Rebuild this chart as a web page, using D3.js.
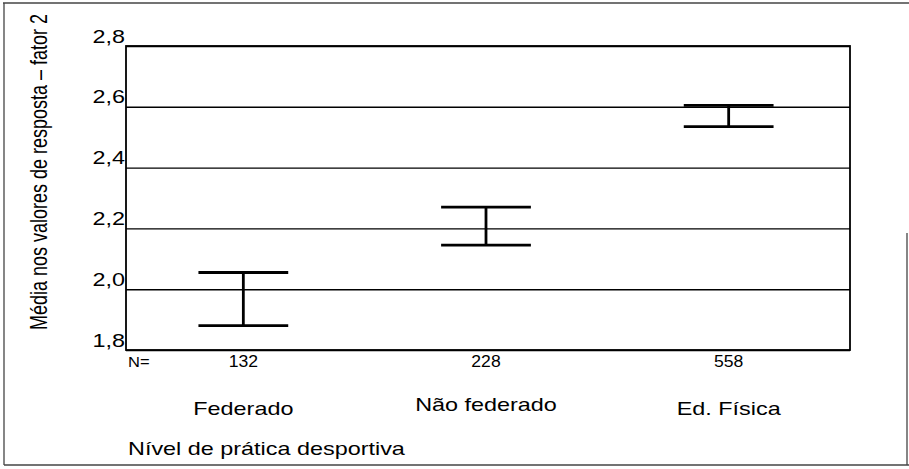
<!DOCTYPE html>
<html>
<head>
<meta charset="utf-8">
<script src="https://cdn.jsdelivr.net/npm/d3@7"></script>
<style>
  html, body { margin: 0; padding: 0; background: #fff; }
  svg { display: block; font-family: "Liberation Sans", Arial, Helvetica, sans-serif; }
</style>
</head>
<body>
<svg width="909" height="469"></svg>
<script>
// chart data
const categories = ["Federado", "Não federado", "Ed. Física"];
const nValues = [132, 228, 558];
const lowerValues = [1.88, 2.145, 2.535];
const upperValues = [2.055, 2.27, 2.605];
const yTicks = [1.8, 2.0, 2.2, 2.4, 2.6, 2.8];
const yTitle = "Média nos valores de resposta – fator 2";
const xTitle = "Nível de prática desportiva";

const svg = d3.select("svg");
const stretch = 1.3; // scanned text is wider than it is tall

const plotLeft = 126, plotRight = 850, plotTop = 46, plotBottom = 350;

const y = d3.scaleLinear().domain([1.8, 2.8]).range([plotBottom, plotTop]);
const x = d3.scaleBand().domain(categories).range([122, plotRight]);

const pt = d3.formatLocale({ decimal: ",", thousands: ".", grouping: [3], currency: ["", ""] });
const fmt = pt.format(".1f");

// outer border of the figure
const border = svg.append("g").attr("stroke", "#444").attr("stroke-width", 1.3);
border.append("line").attr("x1", 3).attr("x2", 909).attr("y1", 3).attr("y2", 3);
border.append("line").attr("x1", 4).attr("x2", 4).attr("y1", 3).attr("y2", 465);
border.append("line").attr("x1", 4).attr("x2", 909).attr("y1", 465).attr("y2", 465);
border.append("line").attr("x1", 907).attr("x2", 907).attr("y1", 233).attr("y2", 465);

// y axis with gridlines
const yAxis = svg.append("g")
    .attr("transform", `translate(${plotLeft},0)`)
    .call(d3.axisLeft(y).tickValues(yTicks).tickSize(-(plotRight - plotLeft)).tickFormat(fmt));
yAxis.select(".domain").remove();
yAxis.selectAll(".tick line").attr("stroke", "#000").attr("stroke-width", 1.4);
yAxis.selectAll(".tick text")
    .attr("x", 0).attr("dy", 0)
    .attr("transform", `translate(-1,-4) scale(${stretch},1)`)
    .attr("font-size", 18)
    .attr("fill", "#000");

// plot frame
svg.append("rect")
    .attr("x", plotLeft).attr("y", plotTop)
    .attr("width", plotRight - plotLeft).attr("height", plotBottom - plotTop)
    .attr("fill", "none").attr("stroke", "#000").attr("stroke-width", 1.8);

// error bars
const bars = svg.append("g").selectAll("g")
    .data(categories)
    .join("g")
    .attr("stroke", "#000").attr("stroke-width", 2.8);
const capW = x.bandwidth() * 0.37;
const cx = d => x(d) + x.bandwidth() / 2;
bars.append("line")
    .attr("x1", cx).attr("x2", cx)
    .attr("y1", (d, i) => y(lowerValues[i])).attr("y2", (d, i) => y(upperValues[i]));
bars.append("line")
    .attr("x1", d => cx(d) - capW / 2).attr("x2", d => cx(d) + capW / 2)
    .attr("y1", (d, i) => y(upperValues[i])).attr("y2", (d, i) => y(upperValues[i]));
bars.append("line")
    .attr("x1", d => cx(d) - capW / 2).attr("x2", d => cx(d) + capW / 2)
    .attr("y1", (d, i) => y(lowerValues[i])).attr("y2", (d, i) => y(lowerValues[i]));

// N= counts under the plot
const xAxis = svg.append("g")
    .attr("transform", `translate(0,${plotBottom})`)
    .call(d3.axisBottom(x).tickSize(0).tickFormat((d, i) => nValues[i]));
xAxis.select(".domain").remove();
xAxis.selectAll(".tick text")
    .attr("y", 0).attr("dy", 0)
    .attr("transform", "translate(0,17) scale(1.1,1)")
    .attr("font-size", 16)
    .attr("fill", "#000");
svg.append("text")
    .attr("transform", `translate(128,${plotBottom + 17}) scale(1.1,1)`)
    .attr("font-size", 15)
    .text("N=");

// category names
svg.append("g").selectAll("text")
    .data(categories)
    .join("text")
    .attr("transform", (d, i) => `translate(${cx(d)},${i === 1 ? 411 : 415}) scale(${stretch},1)`)
    .attr("text-anchor", "middle")
    .attr("font-size", 18)
    .text(d => d);

// axis titles
svg.append("text")
    .attr("transform", `translate(128,455) scale(${stretch},1)`)
    .attr("font-size", 18)
    .text(xTitle);

svg.append("text")
    .attr("transform", `translate(47,172) rotate(-90) scale(1,${stretch})`)
    .attr("text-anchor", "middle")
    .attr("font-size", 18)
    .text(yTitle);
</script>
</body>
</html>
